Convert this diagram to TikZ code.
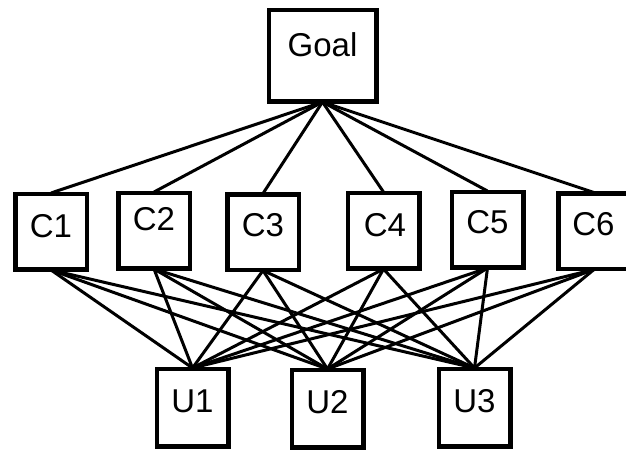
\documentclass[tikz,border=0pt]{standalone}
\usepackage{fontspec}
\setmainfont{Liberation Sans}
\begin{document}
\begin{tikzpicture}[x=1pt, y=-1pt,
  box/.style={draw=black, line width=3pt, fill=white, rectangle, inner sep=0pt,
              minimum width=70pt, minimum height=74pt},
  ubox/.style={box, minimum height=76pt},
  goalbox/.style={box, minimum width=106pt, minimum height=90pt},
  lbl/.style={anchor=base, inner sep=0pt, font=\fontsize{33}{40}\selectfont},
  link/.style={draw=black, line width=3pt}]
  \useasboundingbox (0,0) rectangle (626,450);
  \clip (0,0) rectangle (626,450);

  % boxes
  \node[goalbox] (goal) at (322.5,55.5) {};
  \node[box] (c1) at (51,231.5) {};
  \node[box] (c2) at (154,230.5) {};
  \node[box] (c3) at (263,232) {};
  \node[box] (c4) at (383.5,230.5) {};
  \node[box] (c5) at (487.5,229.5) {};
  \node[box] (c6) at (594,231) {};
  \node[ubox] (u1) at (192.5,407.5) {};
  \node[ubox] (u2) at (327.5,408.5) {};
  \node[ubox] (u3) at (474.5,407.5) {};

  % connectors: goal to criteria, criteria to alternatives
  \foreach \c in {c1,c2,c3,c4,c5,c6} {
    \draw[link] (goal.south) -- (\c.north);
    \foreach \u in {u1,u2,u3}
      \draw[link] (\c.south) -- (\u.north);
  }

  % redraw box outlines over the line ends
  \foreach \n in {goal,c1,c2,c3,c4,c5,c6,u1,u2,u3}
    \draw[line width=3pt] (\n.north west) rectangle (\n.south east);

  % labels
  \node[lbl] (tgoal) at (322.5,56) {Goal};
  \node[lbl] (tc1) at (51,237) {C1};
  \node[lbl] (tc2) at (154,230) {C2};
  \node[lbl] (tc3) at (263,236) {C3};
  \node[lbl] (tc4) at (385,236) {C4};
  \node[lbl] (tc5) at (487.5,233) {C5};
  \node[lbl] (tc6) at (593.5,235) {C6};
  \node[lbl] (tu1) at (192.5,412) {U1};
  \node[lbl] (tu2) at (327.5,413) {U2};
  \node[lbl] (tu3) at (474.5,412) {U3};
\end{tikzpicture}
\end{document}
